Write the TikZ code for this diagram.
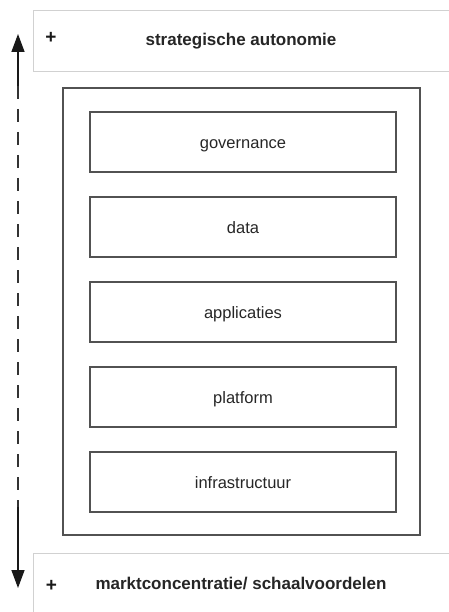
\documentclass[tikz,border=0pt]{standalone}
\usepackage{fontspec}
\setmainfont{Liberation Sans}
\usetikzlibrary{arrows.meta,positioning}

\begin{document}
\begin{tikzpicture}[x=1pt, y=-1pt,
  banner/.style={draw=black!18, line width=0.8pt, fill=white, minimum width=416pt, inner sep=0pt,
                 text height=13pt, text depth=2.8pt,
                 font=\fontsize{17}{20}\selectfont\bfseries, text=black!85},
  plus/.style={font=\fontsize{19}{20}\selectfont\bfseries, text=black!90, inner sep=0pt},
  frame/.style={draw=black!68, line width=1.3pt, minimum width=357pt, minimum height=447pt, inner sep=0pt},
  layer/.style={draw=black!68, line width=1.3pt, minimum width=306pt, minimum height=60pt, inner sep=0pt,
                text height=14pt, text depth=1.4pt,
                font=\fontsize{16.5}{19}\selectfont, text=black!85},
  arr/.style={-{Triangle[length=18pt, width=13pt]}, line width=1.4pt, draw=black!90, fill=black!90}]
\useasboundingbox (0,0) rectangle (448,612);
% axis banners
\node[banner, minimum height=61pt] (top) at (241,40.5)  {strategische autonomie};
\node[banner, minimum height=62pt] (bot) at (241,584.8) {marktconcentratie/ schaalvoordelen};
\node[plus] (plustop) at (51,37.5) {+};
\node[plus] (plusbot) at (51.5,586) {+};
% stack of layers
\node[frame] (stack) at (241.5,311.5) {};
\node[layer] (gov)   at (243,142) {governance};
\node[layer] (data)  at (243,227) {data};
\node[layer] (app)   at (243,312) {applicaties};
\node[layer] (plat)  at (243,397) {platform};
\node[layer] (infra) at (243,482) {infrastructuur};
% axis arrow
\coordinate (uptip) at (18,34);
\coordinate (upend) at (18,92);
\coordinate (dnend) at (18,512);
\coordinate (dntip) at (18,588);
\draw[arr] (upend) -- (uptip);
\draw[line width=1.4pt, draw=black!80, dash pattern=on 13pt off 10pt] ([yshift=6pt]upend) -- (dnend);
\draw[arr] ([yshift=5pt]dnend) -- (dntip);
\end{tikzpicture}
\end{document}
